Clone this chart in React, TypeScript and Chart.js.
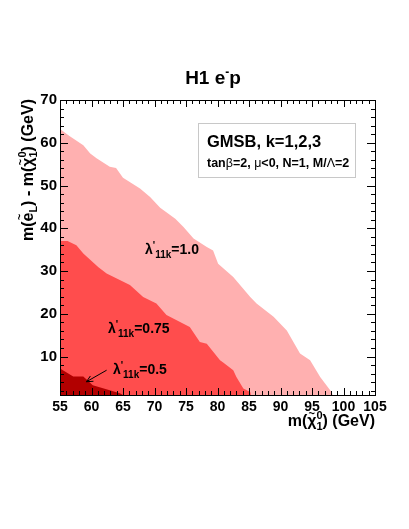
import React, { useEffect, useRef } from 'react';
import { Chart, registerables } from 'chart.js';

Chart.register(...registerables);

// Axis ranges and tick labels
const X_MIN = 55;
const X_MAX = 105;
const Y_MIN = 1;
const Y_MAX = 70;
const xTickValues = [55, 60, 65, 70, 75, 80, 85, 90, 95, 100, 105];
const yTickValues = [10, 20, 30, 40, 50, 60, 70];

// Excluded region boundaries (m(chi) vs Delta m), one per lambda'_11k value
const lam10X = [55, 56.5, 58.7, 59.8, 60.8, 62.9, 63.9, 65, 67.7, 69.3, 70.9, 73.3, 74.6, 76.2, 78.3, 79.3, 80.1, 82.5, 85.2, 86.2, 88.9, 91.0, 93.1, 94.7, 96.3, 98.1, 98.3];
const lam10Y = [63.2, 61.6, 59.4, 57.5, 56.4, 54.4, 54.1, 51.8, 49.3, 47.3, 44.8, 42.2, 40.3, 37.6, 35.6, 34.8, 31.7, 28.6, 23.9, 22.4, 19.3, 16.1, 10.7, 9.1, 5.2, 1.7, 1];

const lam075X = [55, 56.2, 57.6, 58.7, 61.1, 62.4, 66.1, 68.2, 70.3, 71.9, 75.6, 77.2, 78.3, 80.4, 80.9, 82.5, 83.0, 84.1, 85.2, 85.3];
const lam075Y = [37.0, 37.0, 36.0, 34.1, 30.9, 29.4, 26.7, 23.9, 22.4, 19.7, 16.9, 13.4, 13.0, 9.1, 8.6, 6.8, 5.2, 2.5, 1.7, 1];

const lam05X = [55, 57.1, 58.7, 60.2, 62.9, 64.5, 65];
const lam05Y = [7.2, 5.3, 5.3, 3.3, 2.1, 1.4, 1];

const colLight = '#ffb0b0';
const colMid = '#ff4d4d';
const colDark = '#b20000';

const FONT = '"Liberation Sans", Arial, Helvetica, sans-serif';

type Seg = { t: string; size: number; dy?: number; bold?: boolean; noAdv?: boolean; over?: boolean };

function setFont(ctx: CanvasRenderingContext2D, s: Seg) {
  ctx.font = `${s.bold === false ? '' : 'bold '}${s.size}px ${FONT}`;
}

function measureRich(ctx: CanvasRenderingContext2D, segs: Seg[]) {
  let w = 0;
  for (const s of segs) {
    if (s.over) continue;
    setFont(ctx, s);
    const m = ctx.measureText(s.t).width;
    if (!s.noAdv) w += m;
  }
  return w;
}

function drawRich(ctx: CanvasRenderingContext2D, segs: Seg[], x: number, y: number) {
  let cx = x;
  let lastX = x;
  let lastW = 0;
  ctx.textAlign = 'left';
  ctx.textBaseline = 'alphabetic';
  for (const s of segs) {
    setFont(ctx, s);
    const w = ctx.measureText(s.t).width;
    if (s.over) {
      ctx.fillText(s.t, lastX + lastW / 2 - w / 2, y + (s.dy || 0));
      continue;
    }
    ctx.fillText(s.t, cx, y + (s.dy || 0));
    lastX = cx;
    lastW = w;
    if (!s.noAdv) cx += w;
  }
}

const lambdaLabel = (val: string): Seg[] => [
  { t: 'λ', size: 14 },
  { t: "'", size: 10, dy: -5 },
  { t: '11k', size: 10, dy: 4 },
  { t: '=' + val, size: 14 },
];

const overlayPlugin = {
  id: 'rootStyle',
  afterDraw(chart: any) {
    const ctx: CanvasRenderingContext2D = chart.ctx;
    const { left, right, top, bottom } = chart.chartArea;
    const xs = chart.scales.x;
    const ys = chart.scales.y;
    ctx.save();
    ctx.fillStyle = '#000';
    ctx.strokeStyle = '#000';

    // ticks
    ctx.lineWidth = 1;
    ctx.beginPath();
    for (let v = X_MIN; v <= X_MAX; v += 1) {
      const px = Math.round(xs.getPixelForValue(v)) + 0.5;
      const len = v % 5 === 0 ? 7 : 4;
      ctx.moveTo(px, bottom);
      ctx.lineTo(px, bottom - len);
      ctx.moveTo(px, top);
      ctx.lineTo(px, top + len);
    }
    for (let v = 2; v <= Y_MAX; v += 2) {
      const py = Math.round(ys.getPixelForValue(v)) + 0.5;
      const len = v % 10 === 0 ? 8 : 4;
      ctx.moveTo(left, py);
      ctx.lineTo(left + len, py);
      ctx.moveTo(right, py);
      ctx.lineTo(right - len, py);
    }
    ctx.stroke();

    // frame
    ctx.strokeRect(Math.round(left) + 0.5, Math.round(top) + 0.5, Math.round(right - left), Math.round(bottom - top));

    // title
    const title: Seg[] = [
      { t: 'H1 e', size: 19 },
      { t: '-', size: 12, dy: -8 },
      { t: 'p', size: 19 },
    ];
    const tw = measureRich(ctx, title);
    drawRich(ctx, title, 213 - tw / 2, 84);

    // x-axis title (right aligned at end of axis)
    const xTitle: Seg[] = [
      { t: 'm(', size: 16 },
      { t: 'χ', size: 16 },
      { t: '~', size: 11, dy: -9, over: true },
      { t: '0', size: 11, dy: -7, noAdv: true },
      { t: '1', size: 11, dy: 4 },
      { t: ') (GeV)', size: 16 },
    ];
    const xw = measureRich(ctx, xTitle);
    drawRich(ctx, xTitle, right - xw, 426);

    // y-axis title (rotated, right aligned at top)
    const yTitle: Seg[] = [
      { t: 'm(', size: 16 },
      { t: 'e', size: 16 },
      { t: '~', size: 11, dy: -10, over: true },
      { t: 'L', size: 11, dy: 4 },
      { t: ') - m(', size: 16 },
      { t: 'χ', size: 16 },
      { t: '~', size: 11, dy: -9, over: true },
      { t: '0', size: 11, dy: -7, noAdv: true },
      { t: '1', size: 11, dy: 4 },
      { t: ') (GeV)', size: 16 },
    ];
    const yw = measureRich(ctx, yTitle);
    ctx.save();
    ctx.translate(33, top - 1);
    ctx.rotate(-Math.PI / 2);
    drawRich(ctx, yTitle, -yw, 0);
    ctx.restore();

    // info box
    ctx.fillStyle = '#fff';
    ctx.fillRect(198, 123, 157, 54);
    ctx.strokeStyle = '#c8c8c8';
    ctx.strokeRect(198.5, 123.5, 157, 54);
    ctx.fillStyle = '#000';
    drawRich(ctx, [{ t: 'GMSB, k=1,2,3', size: 16.5 }], 207, 147);
    drawRich(ctx, [
      { t: 'tan', size: 12.5 },
      { t: 'β', size: 12.5, bold: false },
      { t: '=2, ', size: 12.5 },
      { t: 'μ', size: 12.5, bold: false },
      { t: '<0, N=1, M/', size: 12.5 },
      { t: 'Λ', size: 12.5, bold: false },
      { t: '=2', size: 12.5 },
    ], 207, 167);

    // lambda labels
    drawRich(ctx, lambdaLabel('1.0'), xs.getPixelForValue(68.5), ys.getPixelForValue(33.9));
    drawRich(ctx, lambdaLabel('0.75'), xs.getPixelForValue(62.6), ys.getPixelForValue(15.5));
    drawRich(ctx, lambdaLabel('0.5'), xs.getPixelForValue(63.4), ys.getPixelForValue(6.0));

    // arrow
    ctx.strokeStyle = '#000';
    const ax0 = xs.getPixelForValue(62.4), ay0 = ys.getPixelForValue(6.8);
    const ax1 = xs.getPixelForValue(59.2), ay1 = ys.getPixelForValue(4.1);
    const ang = Math.atan2(ay1 - ay0, ax1 - ax0);
    ctx.lineWidth = 1;
    ctx.beginPath();
    ctx.moveTo(ax0, ay0);
    ctx.lineTo(ax1, ay1);
    ctx.moveTo(ax1 - 7 * Math.cos(ang - 0.45), ay1 - 7 * Math.sin(ang - 0.45));
    ctx.lineTo(ax1, ay1);
    ctx.lineTo(ax1 - 7 * Math.cos(ang + 0.45), ay1 - 7 * Math.sin(ang + 0.45));
    ctx.stroke();

    ctx.restore();
  },
};

const toPts = (xs: number[], ys: number[]) => xs.map((x, i) => ({ x, y: ys[i] }));

export default function App() {
  const ref = useRef<HTMLCanvasElement | null>(null);
  useEffect(() => {
    document.body.style.margin = '0';
    if (!ref.current) return;
    const mk = (label: string, xs: number[], ys: number[], color: string) => ({
      label,
      data: toPts(xs, ys),
      showLine: true,
      fill: 'start',
      backgroundColor: color,
      borderColor: color,
      borderWidth: 0,
      pointRadius: 0,
      tension: 0,
    });
    const chart = new Chart(ref.current, {
      type: 'scatter',
      data: {
        datasets: [
          mk("λ'11k=0.5", lam05X, lam05Y, colDark),
          mk("λ'11k=0.75", lam075X, lam075Y, colMid),
          mk("λ'11k=1.0", lam10X, lam10Y, colLight),
        ] as any,
      },
      options: {
        animation: false,
        responsive: false,
        devicePixelRatio: 1,
        layout: { padding: { left: 8, top: 100, right: 34, bottom: 104 } },
        plugins: { legend: { display: false }, tooltip: { enabled: false }, title: { display: false } },
        scales: {
          x: {
            type: 'linear',
            min: X_MIN,
            max: X_MAX,
            grid: { display: false, drawTicks: false },
            border: { display: false },
            afterBuildTicks: (s: any) => { s.ticks = xTickValues.map((v) => ({ value: v })); },
            afterFit: (s: any) => { s.height = 30; },
            ticks: { color: '#000', padding: 4, maxRotation: 0, autoSkip: false, font: { family: FONT, size: 14, weight: 'bold' } },
          },
          y: {
            type: 'linear',
            min: Y_MIN,
            max: Y_MAX,
            grid: { display: false, drawTicks: false },
            border: { display: false },
            afterBuildTicks: (s: any) => { s.ticks = yTickValues.map((v) => ({ value: v })); },
            afterFit: (s: any) => { s.width = 52; },
            ticks: { color: '#000', padding: 3, autoSkip: false, font: { family: FONT, size: 15, weight: 'bold' } },
          },
        },
      } as any,
      plugins: [overlayPlugin],
    });
    return () => chart.destroy();
  }, []);
  return (
    <div style={{ position: 'fixed', left: 0, top: 0, width: 409, height: 529, background: '#fff' }}>
      <canvas ref={ref} width={409} height={529} />
    </div>
  );
}
